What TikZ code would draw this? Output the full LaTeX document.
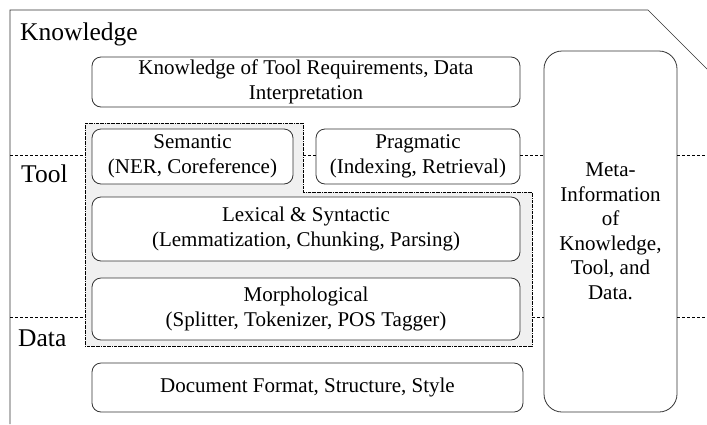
\documentclass[tikz,border=0pt]{standalone}
\usepackage{fontspec}
\setmainfont{Liberation Serif}
\tikzset{
  layerbox/.style={draw=black!80, line width=0.8pt, fill=white, rounded corners=9pt,
    align=center, inner sep=0pt, font=\fontsize{21}{24.5}\selectfont},
  layername/.style={anchor=base west, inner sep=0pt, font=\fontsize{25.5}{28}\selectfont},
  layerline/.style={densely dashed, line width=0.6pt},
}
\begin{document}
\begin{tikzpicture}[x=1pt, y=-1pt]
  \useasboundingbox (0,0) rectangle (707,424);
  \draw[line width=0.7pt, black!80] (10,424) -- (10,10) -- (648,10) -- (707,69);
  \draw[densely dash dot, line width=0.6pt, fill=black!6]
    (85,123) -- (303,123) -- (303,192) -- (532,192) -- (532,346) -- (85,346) -- cycle;

  \node[layername] (knowledge) at (20,40) {Knowledge};
  \node[layername] (tool) at (21,182) {Tool};
  \node[layername] (data) at (18,346) {Data};

  \node[layerbox, minimum width=428, minimum height=50] (req) at (306,82)
    {Knowledge of Tool Requirements, Data\\Interpretation};
  \node[layerbox, minimum width=201, minimum height=55] (sem) at (192.5,156.5)
    {Semantic\\(NER, Coreference)};
  \node[layerbox, minimum width=204, minimum height=55] (prag) at (418,156.5)
    {Pragmatic\\(Indexing, Retrieval)};
  \node[layerbox, minimum width=428, minimum height=64] (lex) at (306,229)
    {Lexical \& Syntactic\\(Lemmatization, Chunking, Parsing)};
  \node[layerbox, minimum width=428, minimum height=62] (morph) at (306,309)
    {Morphological\\(Splitter, Tokenizer, POS Tagger)};
  \node[layerbox, minimum width=431, minimum height=49] (doc) at (307.5,387.5)
    {Document Format, Structure, Style};
  \node[layerbox, rounded corners=18pt, minimum width=133, minimum height=361] (meta) at (610.5,231.5)
    {Meta-\\Information\\of\\Knowledge,\\Tool, and\\Data.};

  \foreach \a/\b in {10/85, 303/316, 520/544, 677/707}
    \draw[layerline] (\a,155) -- (\b,155);
  \foreach \a/\b in {10/85, 532/544, 677/707}
    \draw[layerline] (\a,317) -- (\b,317);
\end{tikzpicture}
\end{document}
